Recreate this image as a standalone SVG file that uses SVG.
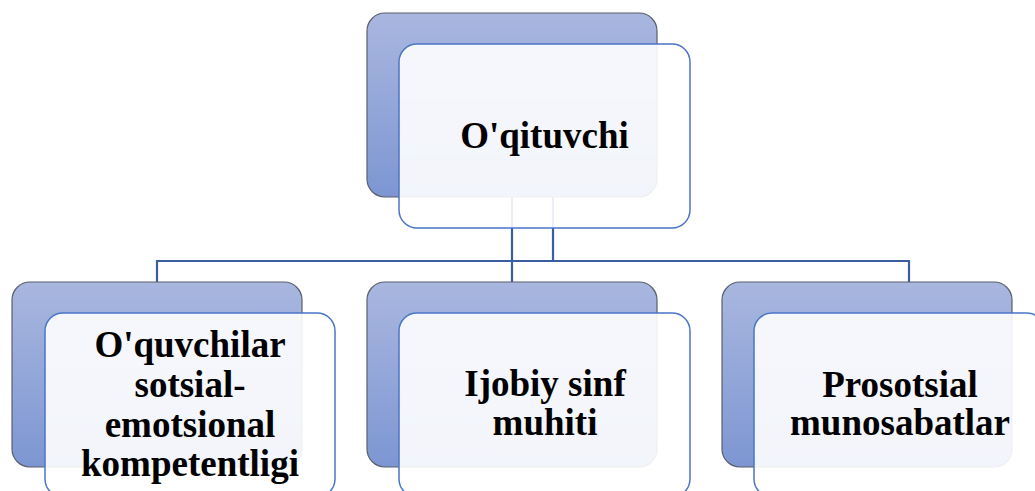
<svg xmlns="http://www.w3.org/2000/svg" width="1035" height="491" viewBox="0 0 1035 491">
<defs>
<linearGradient id="bg" x1="0" y1="0" x2="0" y2="1">
<stop offset="0" stop-color="#a9b7df"/>
<stop offset="1" stop-color="#7d96d2"/>
</linearGradient>
<style>
.back{fill:url(#bg);stroke:#5a5f6e;stroke-width:1.2}
.front{fill:#ffffff;fill-opacity:0.9;stroke:#4a76c6;stroke-width:1.5}
.conn{fill:none;stroke:#3a5ea3;stroke-width:2.2}
.t{font-family:"Liberation Serif","Times New Roman",serif;font-weight:bold;font-size:37px;fill:#000;text-anchor:middle}
</style>
</defs>
<rect width="1035" height="491" fill="#ffffff"/>
<g id="connectors">
<path class="conn" d="M553 197 V261 M157 282 V261 H909 V282 M512 197 V282"/>
</g>
<g id="node-top">
<rect class="back" x="367" y="13" width="290" height="184" rx="18"/>
<rect class="front" x="399" y="44" width="291" height="184" rx="18"/>
<text class="t" x="544.5" y="148">O'qituvchi</text>
</g>
<g id="node-left">
<rect class="back" x="12" y="282" width="290" height="185" rx="18"/>
<rect class="front" x="45" y="313" width="290" height="184" rx="18"/>
<text class="t" x="190" y="357">O'quvchilar</text>
<text class="t" x="190" y="397">sotsial-</text>
<text class="t" x="190" y="437">emotsional</text>
<text class="t" x="190" y="476">kompetentligi</text>
</g>
<g id="node-middle">
<rect class="back" x="367" y="282" width="290" height="185" rx="18"/>
<rect class="front" x="399" y="313" width="291" height="184" rx="18"/>
<text class="t" x="545" y="396">Ijobiy sinf</text>
<text class="t" x="545" y="435">muhiti</text>
</g>
<g id="node-right">
<rect class="back" x="722" y="282" width="290" height="185" rx="18"/>
<rect class="front" x="754" y="313" width="291" height="184" rx="18"/>
<text class="t" x="900" y="397">Prosotsial</text>
<text class="t" x="900" y="435">munosabatlar</text>
</g>
</svg>
